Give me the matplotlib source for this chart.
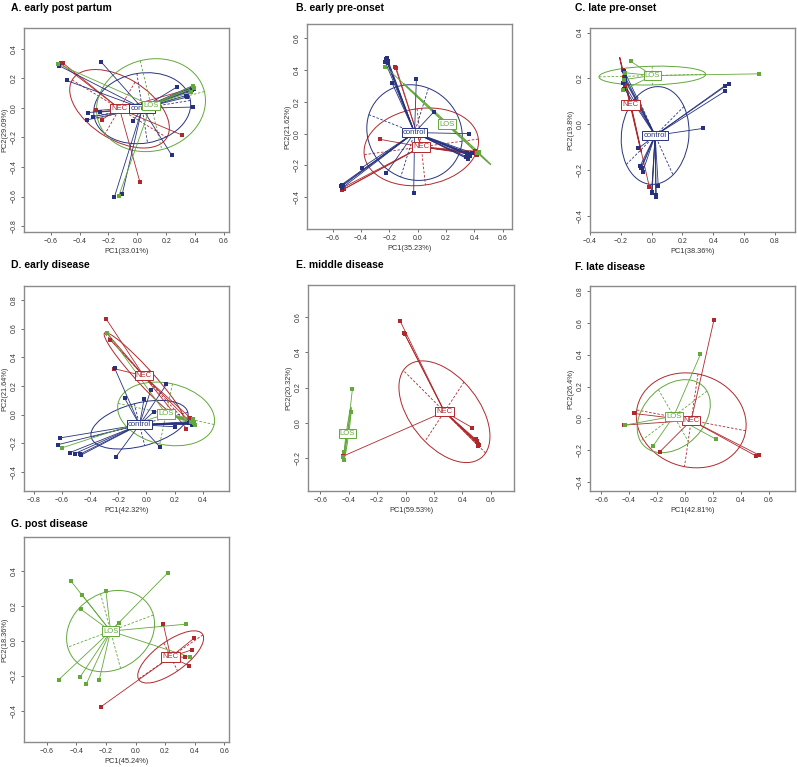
import numpy as np
import matplotlib
matplotlib.use("Agg")
import matplotlib.pyplot as plt
from matplotlib.patches import Ellipse

plt.rcParams['font.family'] = ['Liberation Sans', 'DejaVu Sans']

W, H = 797, 767

# group colours
col = {"NEC": "#b0282c", "control": "#27327f", "LOS": "#62a83a"}

# ---- A. early post partum
a_nec_x = [-0.517, -0.530, -0.289, -0.245, 0.018, 0.312, 0.388]
a_nec_y = [0.304, 0.300, -0.018, -0.079, -0.502, -0.185, 0.135]
a_ctl_x = [-0.540, -0.249, -0.490, -0.342, -0.346, -0.305, -0.259, -0.028, -0.159, -0.104,
           0.238, 0.273, 0.337, 0.344, 0.383, 0.388, 0.385, 0.378, 0.392, 0.380]
a_ctl_y = [0.284, 0.309, 0.185, -0.032, -0.081, -0.059, -0.029, -0.088, -0.604, -0.581,
           -0.320, 0.140, 0.083, 0.072, 0.005, 0.151, 0.140, 0.125, 0.130, 0.118]
a_los_x = [-0.547, -0.129, 0.388, 0.372, 0.390]
a_los_y = [0.295, -0.597, 0.151, 0.106, 0.135]

# ---- B. early pre-onset
b_nec_x = [-0.158, -0.150, -0.264, -0.527, -0.535, -0.520, 0.405, 0.410, 0.415, 0.400, 0.420, 0.410]
b_nec_y = [0.419, 0.410, -0.036, -0.340, -0.355, -0.350, -0.110, -0.125, -0.130, -0.120, -0.135, -0.125]
b_ctl_x = [-0.225, -0.215, -0.210, -0.228, -0.220, -0.212, -0.181, -0.009, 0.113, 0.360, -0.393,
           -0.221, -0.028, 0.350, 0.360, 0.370, 0.340, 0.355, 0.380, 0.360, 0.345, 0.370,
           -0.534, -0.540, -0.530, -0.525]
b_ctl_y = [0.470, 0.475, 0.455, 0.450, 0.462, 0.445, 0.320, 0.346, 0.136, 0.000, -0.214,
           -0.249, -0.375, -0.120, -0.130, -0.140, -0.150, -0.160, -0.120, -0.135, -0.145, -0.130,
           -0.320, -0.330, -0.340, -0.325]
b_los_x = [-0.228, 0.419, 0.430]
b_los_y = [0.421, -0.124, -0.115]

# ---- C. late pre-onset
c_nec_x = [-0.185, -0.178, -0.170, -0.015]
c_nec_y = [0.235, 0.205, 0.170, -0.273]
c_ctl_x = [-0.177, -0.175, -0.183, -0.177, -0.175, -0.172, 0.474, 0.502, 0.474, 0.334,
           -0.086, -0.075, -0.065, -0.058, -0.070, 0.000, 0.003, 0.026, 0.043, 0.000, 0.030]
c_ctl_y = [0.231, 0.200, 0.180, 0.155, 0.210, 0.190, 0.168, 0.177, 0.143, -0.018,
           -0.105, -0.182, -0.190, -0.207, -0.190, -0.295, -0.300, -0.317, -0.270, -0.300, -0.310]
c_los_x = [-0.134, 0.696, -0.175, -0.180, -0.185]
c_los_y = [0.274, 0.220, 0.225, 0.195, 0.148]

# ---- D. early disease
d_nec_x = [-0.284, -0.279, -0.256, -0.230, 0.312, 0.284, 0.320]
d_nec_y = [0.664, 0.566, 0.520, 0.320, -0.023, -0.098, -0.060]
d_ctl_x = [-0.611, -0.627, -0.544, -0.509, -0.473, -0.466, -0.225, -0.154, -0.017, 0.031, 0.052,
           0.142, 0.206, 0.095, -0.218, 0.310, 0.320, 0.330, 0.315, 0.325, 0.340, 0.300]
d_ctl_y = [-0.163, -0.210, -0.266, -0.273, -0.277, -0.284, 0.322, 0.112, 0.105, 0.170, 0.019,
           0.210, -0.086, -0.226, -0.298, -0.050, -0.060, -0.065, -0.055, -0.070, -0.060, -0.060]
d_los_x = [-0.601, -0.279, 0.330, 0.340, 0.320, 0.345, 0.330, 0.335]
d_los_y = [-0.233, 0.570, -0.040, -0.060, -0.050, -0.070, -0.030, -0.055]

# ---- E. middle disease
e_nec_x = [-0.039, -0.008, -0.005, 0.471, 0.494, 0.500, 0.506, 0.513, 0.510, 0.515, -0.442]
e_nec_y = [0.581, 0.509, 0.503, -0.029, -0.095, -0.105, -0.110, -0.133, -0.120, -0.125, -0.192]
e_los_x = [-0.374, -0.384, -0.391, -0.433, -0.438, -0.433]
e_los_y = [0.194, 0.061, -0.050, -0.168, -0.196, -0.215]

# ---- F. late disease
f_nec_x = [0.208, -0.365, -0.434, -0.179, 0.513, 0.532]
f_nec_y = [0.614, 0.031, -0.042, -0.209, -0.237, -0.230]
f_los_x = [0.112, -0.227, 0.227, -0.430]
f_los_y = [0.402, -0.172, -0.132, -0.042]

# ---- G. post disease
g_nec_x = [0.187, 0.396, 0.380, 0.335, 0.362, -0.236]
g_nec_y = [0.101, 0.019, -0.048, -0.090, -0.139, -0.375]
g_los_x = [-0.438, -0.362, -0.371, -0.200, -0.115, 0.220, 0.344, 0.371, -0.519, -0.375, -0.333, -0.245]
g_los_y = [0.347, 0.267, 0.185, 0.288, 0.103, 0.394, 0.099, -0.090, -0.219, -0.204, -0.244, -0.219]

titles = ["A. early post partum", "B. early pre-onset", "C. late pre-onset", "D. early disease",
          "E. middle disease", "F. late disease", "G. post disease"]
pc1 = ["33.01", "35.23", "38.36", "42.32", "59.53", "42.81", "45.24"]
pc2 = ["29.09", "21.62", "19.8", "21.64", "20.32", "26.4", "18.36"]

groups = [
    [("NEC", a_nec_x, a_nec_y), ("control", a_ctl_x, a_ctl_y), ("LOS", a_los_x, a_los_y)],
    [("NEC", b_nec_x, b_nec_y), ("control", b_ctl_x, b_ctl_y), ("LOS", b_los_x, b_los_y)],
    [("NEC", c_nec_x, c_nec_y), ("control", c_ctl_x, c_ctl_y), ("LOS", c_los_x, c_los_y)],
    [("NEC", d_nec_x, d_nec_y), ("control", d_ctl_x, d_ctl_y), ("LOS", d_los_x, d_los_y)],
    [("NEC", e_nec_x, e_nec_y), ("LOS", e_los_x, e_los_y)],
    [("NEC", f_nec_x, f_nec_y), ("LOS", f_los_x, f_los_y)],
    [("NEC", g_nec_x, g_nec_y), ("LOS", g_los_x, g_los_y)],
]

# layout in pixels: box (left, top, right, bottom), title (x, y), limits, ticks
boxes = [(24, 28, 229, 232), (307, 24, 512, 229), (590, 28, 795, 232),
         (24, 286, 229, 491), (308, 285, 514, 491), (590, 286, 795, 491),
         (24, 537, 229, 742)]
title_pos = [(11, 8), (296, 8), (575, 8), (11, 265), (296, 265), (575, 267), (11, 524)]
xlims = [(-0.785, 0.635), (-0.78, 0.665), (-0.40, 0.93), (-0.87, 0.587),
         (-0.687, 0.764), (-0.68, 0.79), (-0.753, 0.631)]
ylims = [(-0.84, 0.54), (-0.60, 0.69), (-0.47, 0.42), (-0.534, 0.897),
         (-0.39, 0.785), (-0.455, 0.83), (-0.575, 0.597)]
xtick_rng = [(-0.6, 0.6), (-0.6, 0.6), (-0.4, 0.8), (-0.8, 0.4), (-0.6, 0.6), (-0.6, 0.6), (-0.6, 0.6)]
ytick_rng = [(-0.8, 0.4), (-0.4, 0.6), (-0.4, 0.4), (-0.4, 0.8), (-0.2, 0.6), (-0.4, 0.8), (-0.4, 0.4)]


def fmt(v):
    s = "%.1f" % v
    if s == "-0.0":
        s = "0.0"
    return s.replace("-", "\u2212")


fig = plt.figure(figsize=(W / 100, H / 100), dpi=100)

for i in range(7):
    l, t, r, b = boxes[i]
    ax = fig.add_axes([l / W, 1 - b / H, (r - l) / W, (b - t) / H])
    ax.set_xlim(*xlims[i])
    ax.set_ylim(*ylims[i])

    for name, xs, ys in groups[i]:
        c = col[name]
        xs = np.array(xs)
        ys = np.array(ys)
        cx, cy = xs.mean(), ys.mean()
        cov = np.cov(np.vstack([xs, ys]), bias=True)
        vals, vecs = np.linalg.eigh(cov)
        vals = np.clip(vals, 0, None)
        a = np.sqrt(vals[1])
        bb = np.sqrt(vals[0])
        v1 = vecs[:, 1]
        v2 = vecs[:, 0]
        ang = np.degrees(np.arctan2(v1[1], v1[0]))
        ax.add_patch(Ellipse((cx, cy), 2 * a, 2 * bb, angle=ang, fill=False,
                             edgecolor=c, lw=0.7, zorder=2))
        ax.plot([cx - a * v1[0], cx + a * v1[0]], [cy - a * v1[1], cy + a * v1[1]],
                color=c, lw=0.6, ls=(0, (3, 2)), zorder=2)
        ax.plot([cx - bb * v2[0], cx + bb * v2[0]], [cy - bb * v2[1], cy + bb * v2[1]],
                color=c, lw=0.6, ls=(0, (3, 2)), zorder=2)
        for px, py in zip(xs, ys):
            ax.plot([cx, px], [cy, py], color=c, lw=0.6, zorder=3)
        ax.plot(xs, ys, 's', color=c, ms=2.4, mew=0, zorder=4)
    for name, xs, ys in groups[i]:
        c = col[name]
        ax.text(np.mean(xs), np.mean(ys), name, color=c, fontsize=5.5, ha='center', va='center',
                zorder=6, bbox=dict(boxstyle='square,pad=0.15', fc='white', ec=c, lw=0.7))

    xt = np.round(np.arange(xtick_rng[i][0], xtick_rng[i][1] + 0.01, 0.2), 1)
    yt = np.round(np.arange(ytick_rng[i][0], ytick_rng[i][1] + 0.01, 0.2), 1)
    ax.set_xticks(xt)
    ax.set_xticklabels([fmt(v) for v in xt])
    ax.set_yticks(yt)
    ax.set_yticklabels([fmt(v) for v in yt], rotation=90, va='center')
    ax.tick_params(labelsize=5, length=2.5, width=0.6, pad=2, colors='#555555', labelcolor='#333333')
    for sp in ax.spines.values():
        sp.set_color('#8a8a8a')
        sp.set_linewidth(1.0)
    ax.set_xlabel("PC1(%s%%)" % pc1[i], fontsize=5.3, color='#333333', labelpad=2)
    ax.set_ylabel("PC2(%s%%)" % pc2[i], fontsize=5.3, color='#333333', labelpad=2)

    tx, ty = title_pos[i]
    fig.text(tx / W, 1 - ty / H, titles[i], fontsize=7.5, fontweight='bold', ha='left', va='center')

fig.savefig("out.png", dpi=100)
